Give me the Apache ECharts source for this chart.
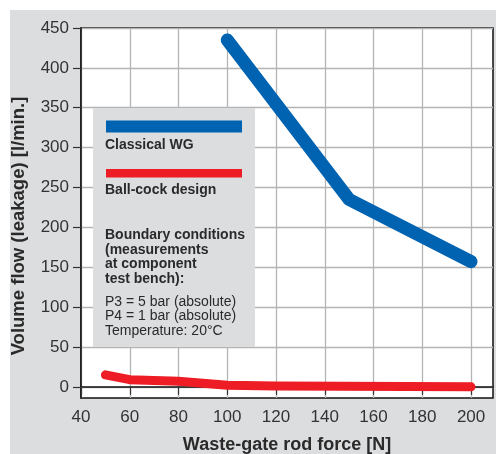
<!DOCTYPE html>
<html>
<head>
<meta charset="utf-8">
<script src="https://cdn.jsdelivr.net/npm/echarts@6/dist/echarts.min.js"></script>
<style>
html,body{margin:0;padding:0;background:#fff;width:496px;height:454px;overflow:hidden;}
#c{position:absolute;left:10px;top:10px;width:486px;height:444px;background:#dcdddf;}
</style>
</head>
<body>
<div id="c"></div>
<script>
const seriesNames = ['Classical WG', 'Ball-cock design'];
const classicalWG = [[100, 435], [150, 235], [200, 157]];
const ballCock = [[50, 15], [60, 9], [80, 7], [100, 2], [120, 1], [200, 0]];
const xTicks = [40, 60, 80, 100, 120, 140, 160, 180, 200];
const yTicks = [0, 50, 100, 150, 200, 250, 300, 350, 400, 450];
const xTitle = 'Waste-gate rod force [N]';
const yTitle = 'Volume flow (leakage) [l/min.]';
const boundaryLines = ['Boundary conditions', '(measurements', 'at component', 'test bench):'];
const conditionLines = ['P3 = 5 bar (absolute)', 'P4 = 1 bar (absolute)', 'Temperature: 20°C'];

const chart = echarts.init(document.getElementById('c'), null, {renderer: 'canvas'});
const FONT = '"Liberation Sans", Arial, Helvetica, sans-serif';
const txtColor = '#2a2a2a';

const graphics = [
  {type: 'rect', shape: {x: 83, y: 98, width: 162, height: 239}, style: {fill: '#dcdddf'}, z: 5},
  {type: 'rect', shape: {x: 96, y: 110.5, width: 136, height: 12}, style: {fill: '#0063b1'}, z: 6},
  {type: 'text', x: 95, y: 135, style: {text: seriesNames[0], font: 'bold 14px ' + FONT, fill: txtColor, verticalAlign: 'middle'}, z: 6},
  {type: 'rect', shape: {x: 96, y: 159, width: 136, height: 8.5}, style: {fill: '#ee1c25'}, z: 6},
  {type: 'text', x: 95, y: 180, style: {text: seriesNames[1], font: 'bold 14px ' + FONT, fill: txtColor, verticalAlign: 'middle'}, z: 6}
];
boundaryLines.forEach((t, i) => graphics.push({type: 'text', x: 95, y: 225 + i * 14.7, style: {text: t, font: 'bold 14px ' + FONT, fill: txtColor, verticalAlign: 'middle'}, z: 6}));
conditionLines.forEach((t, i) => graphics.push({type: 'text', x: 95, y: 292 + i * 14.6, style: {text: t, font: '14px ' + FONT, fill: txtColor, verticalAlign: 'middle'}, z: 6}));
graphics.push({type: 'text', x: 277, y: 435, style: {text: xTitle, font: 'bold 18px ' + FONT, fill: txtColor, align: 'center', verticalAlign: 'middle'}, z: 6});
graphics.push({type: 'text', x: 9, y: 216, rotation: Math.PI / 2, style: {text: yTitle, font: 'bold 18.5px ' + FONT, fill: txtColor, align: 'center', verticalAlign: 'middle'}, z: 6});

chart.setOption({
  animation: false,
  backgroundColor: 'transparent',
  grid: {left: 71, top: 18, right: 3, bottom: 56, show: true, backgroundColor: '#ffffff', borderColor: '#111', borderWidth: 1.5},
  xAxis: {
    type: 'value', min: 40, max: 209, interval: 20,
    axisLine: {show: true, lineStyle: {color: '#111', width: 1.5}},
    axisTick: {show: true, length: 8, lineStyle: {color: '#333', width: 1.2}, customValues: xTicks},
    axisLabel: {customValues: xTicks, margin: 11, color: '#333', fontSize: 17, fontFamily: FONT},
    splitLine: {show: true, lineStyle: {color: '#b4b4b4', width: 1.3}}
  },
  yAxis: {
    type: 'value', min: -14, max: 450,
    axisLine: {show: true, lineStyle: {color: '#111', width: 1.5}},
    axisTick: {show: true, length: 8, lineStyle: {color: '#333', width: 1.2}, customValues: yTicks},
    axisLabel: {customValues: yTicks, margin: 12, color: '#333', fontSize: 17, fontFamily: FONT},
    splitLine: {show: true, lineStyle: {color: '#b4b4b4', width: 1.3}}
  },
  series: [
    {name: seriesNames[0], type: 'line', data: classicalWG, showSymbol: false, symbol: 'none', z: 3,
     lineStyle: {color: '#0063b1', width: 13, cap: 'round', join: 'round'}},
    {name: seriesNames[1], type: 'line', data: ballCock, showSymbol: false, symbol: 'none', z: 3,
     lineStyle: {color: '#ee1c25', width: 9, cap: 'round', join: 'round'}}
  ],
  graphic: graphics
});
</script>
</body>
</html>
